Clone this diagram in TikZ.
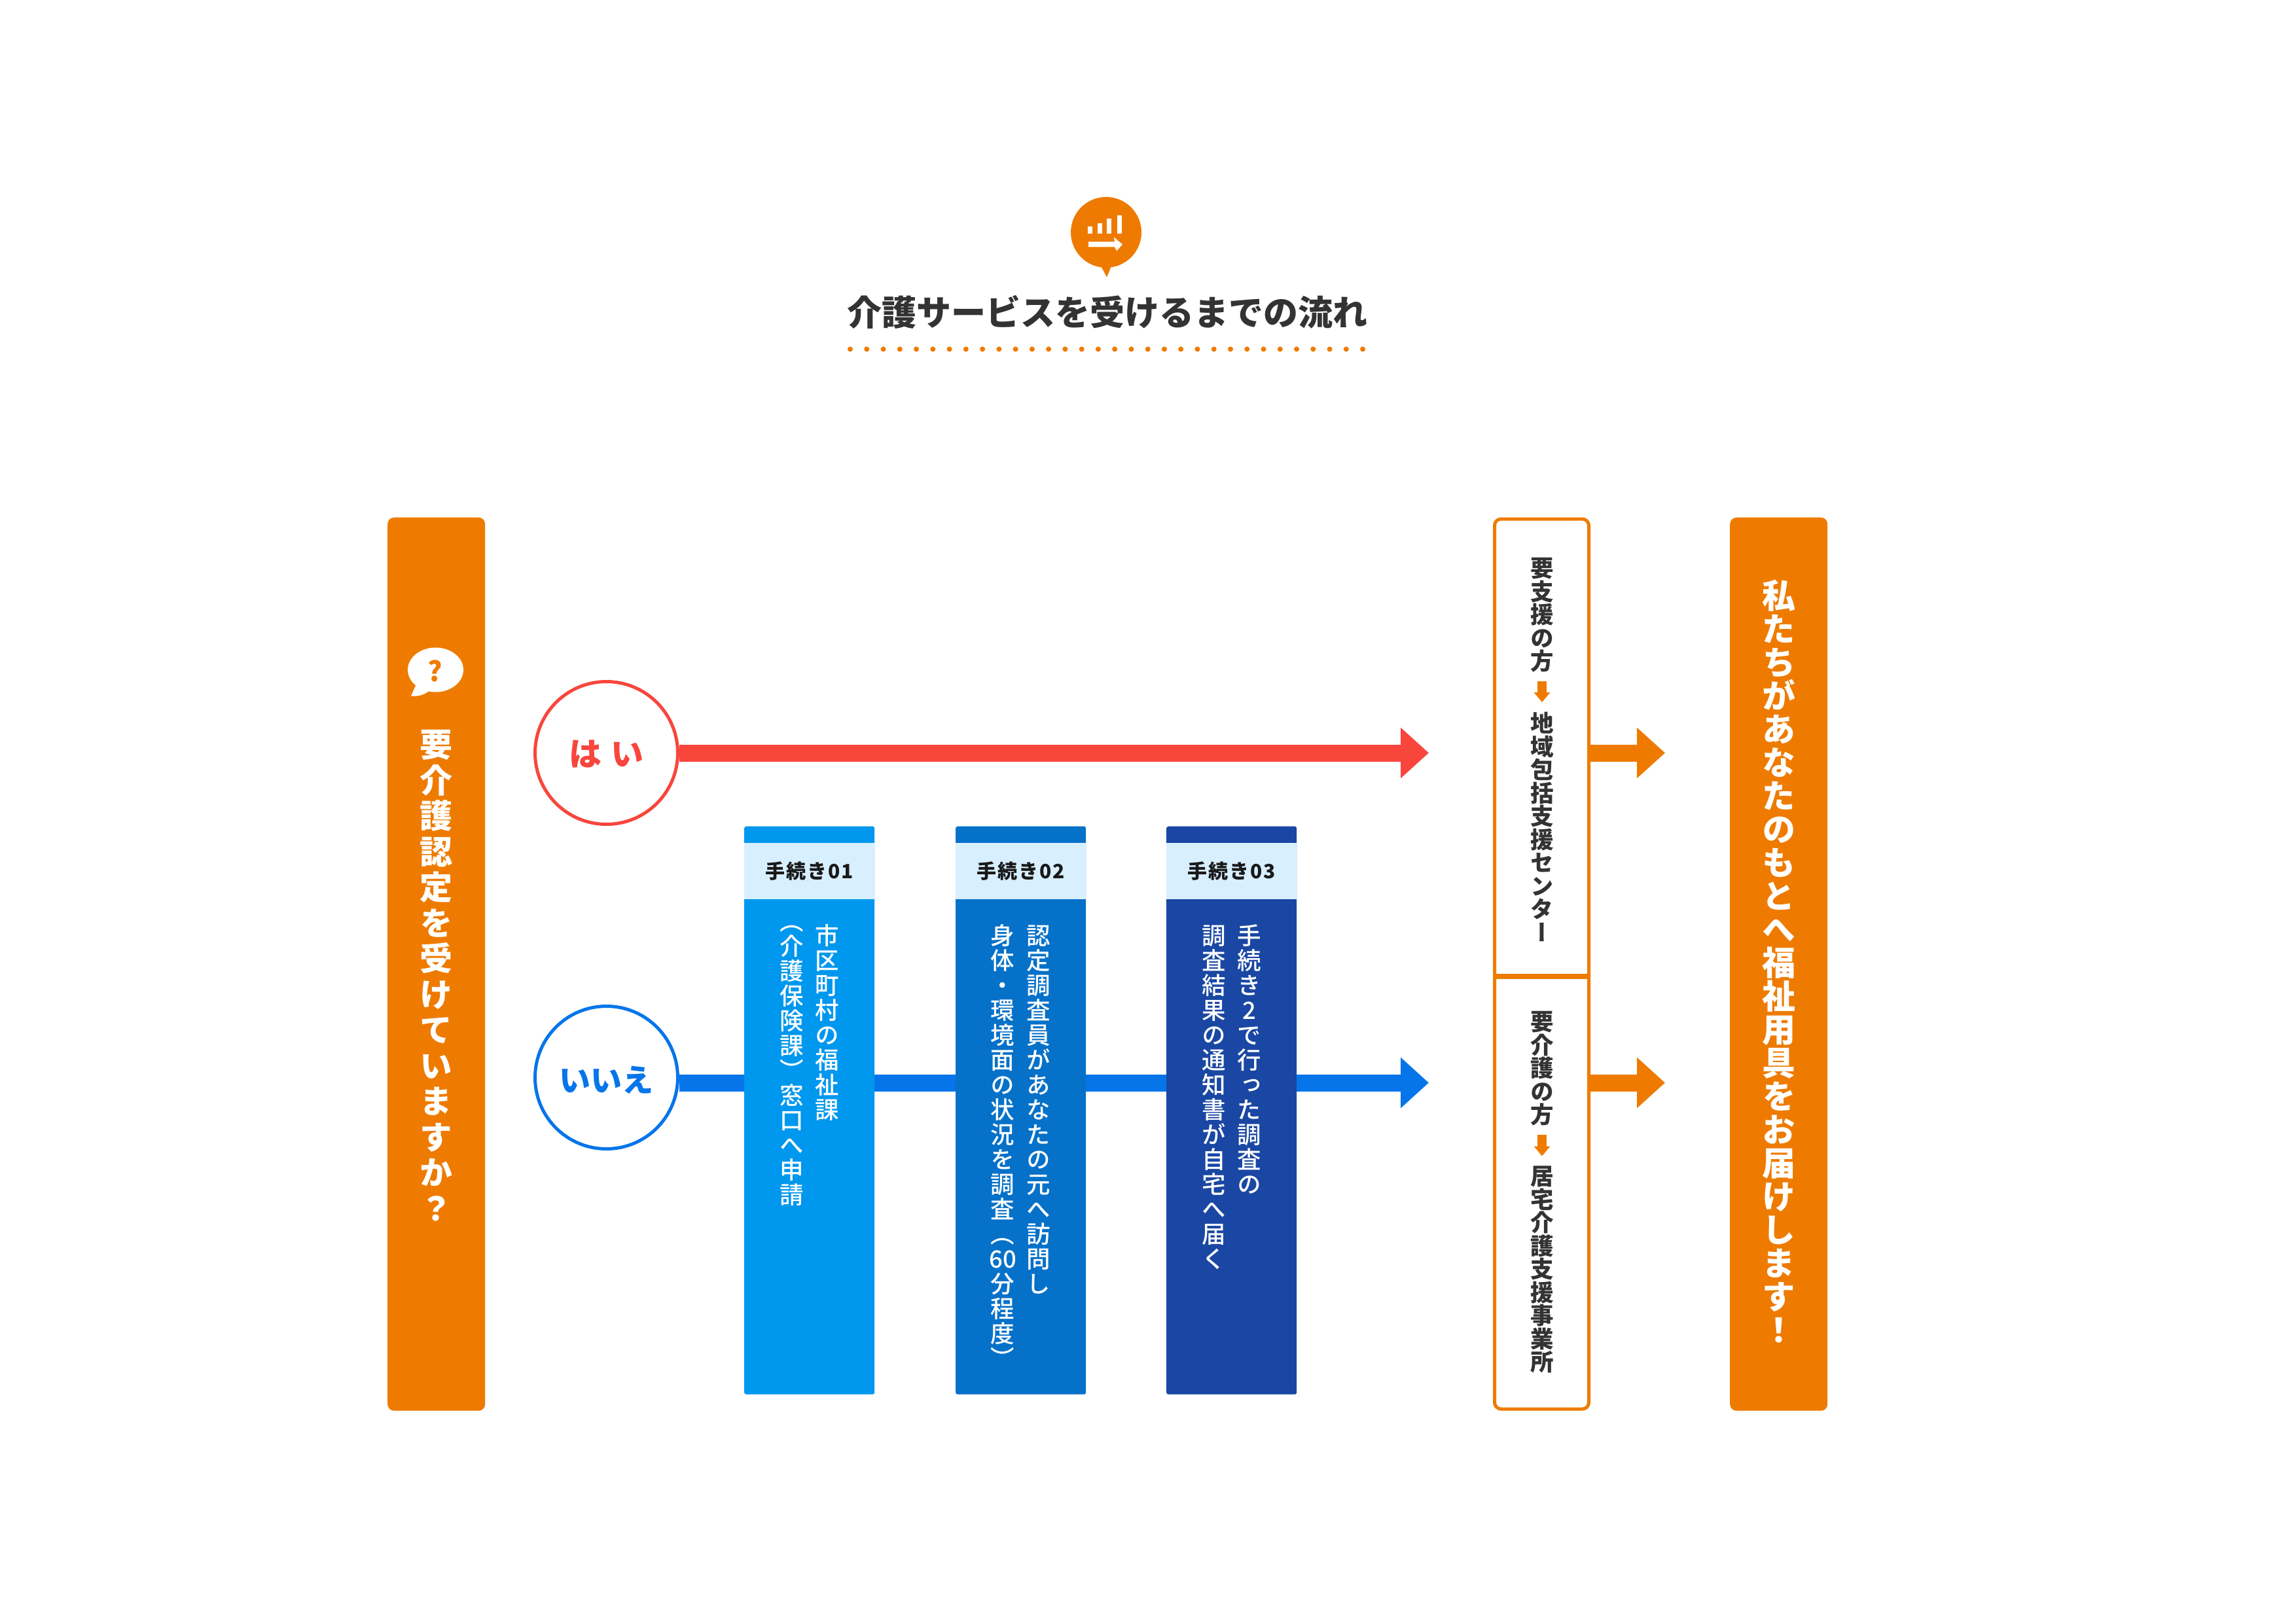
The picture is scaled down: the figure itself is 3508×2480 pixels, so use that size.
\documentclass[tikz,border=0pt]{standalone}
\usepackage{fontspec}
\usepackage{xcolor}
\usetikzlibrary{arrows.meta}
\setmainfont{Noto Sans CJK JP}
\newfontfamily\blackfont{Noto Sans CJK JP Black}
\newfontfamily\vblackfont[RawFeature=+vert]{Noto Sans CJK JP Black}
\newfontfamily\vmidfont[RawFeature=+vert]{Noto Sans CJK JP Medium}
\makeatletter
% #1 is the gap between characters, #2 the characters (braces keep 60 together)
\newcommand{\tatetext}[2]{\vbox{\offinterlineskip\@tfor\tatechar:=#2\do{%
  \hbox to 1em{\hss\vrule height .88em depth .12em width 0pt\tatechar\hss}\vskip#1}}}
\makeatother
\definecolor{careorange}{HTML}{EE7B00}
\definecolor{yesred}{HTML}{F8463D}
\definecolor{noblue}{HTML}{0675EA}
\definecolor{stepa}{HTML}{0097EE}
\definecolor{stepb}{HTML}{0671C9}
\definecolor{stepc}{HTML}{1A47A3}
\definecolor{stephead}{HTML}{D8EFFF}
\definecolor{darktext}{HTML}{333333}
\tikzset{
  vtext/.style={anchor=north,inner sep=0pt},
  asktxt/.style={vtext,text=white,font=\fontsize{50}{50}\vblackfont},
  resulttxt/.style={vtext,text=white,font=\fontsize{51}{51}\vblackfont},
  sidetext/.style={vtext,text=darktext,font=\fontsize{35.5}{36}\vblackfont},
  steptext/.style={vtext,text=white,font=\fontsize{36.5}{37}\vmidfont},
  bar/.style={anchor=north west,inner sep=0pt,minimum width=149pt,minimum height=1365pt,rounded corners=10pt},
  stepbox/.style={anchor=north west,inner sep=0pt,minimum width=199pt,minimum height=868pt,rounded corners=3pt},
  headbox/.style={anchor=north west,inner sep=0pt,minimum width=199pt,minimum height=86pt,fill=stephead,
    text=black!90,font=\fontsize{30}{30}\bfseries\addfontfeature{LetterSpace=7}},
  answer/.style={circle,draw,line width=5pt,fill=white,inner sep=0pt,minimum size=218pt,font=\fontsize{48}{48}\blackfont},
  flow/.style={line width=26pt,-{Triangle[length=43pt,width=75pt]}},
  smalldown/.style={careorange,line width=13.5pt,-{Triangle[length=15pt,width=24pt]}}
}
\begin{document}
\begin{tikzpicture}[x=1pt,y=-1pt]
  \useasboundingbox (0,-1.5) rectangle (3508,2478.5);
  % title
  \fill[careorange] (1690,353.5) circle (54pt);
  \fill[careorange] (1681.5,404) -- (1691,422) -- (1698.5,404) -- cycle;
  \foreach \x/\y in {1661.5/345,1676.5/340,1691/333,1706.5/328}
    \fill[white] (\x,\y) rectangle (\x+7,356);
  \fill[white] (1663,368) -- (1703,368) -- (1702,361) -- (1715,372) -- (1706,382) -- (1703,376) -- (1663,376) -- cycle;
  \node[text=darktext,font=\fontsize{53}{53}\blackfont] (title) at (1692,475) {介護サービスを受けるまでの流れ};
  \foreach \i in {0,...,31}
    \fill[careorange] ({1299+25.26*\i},532) circle (4pt);
  % question
  \node[bar,fill=careorange] (ask) at (592,789) {};
  \fill[white] (665.5,1022) ellipse (42.5pt and 34pt);
  \fill[white] (636,1044) -- (628,1062) .. controls (640,1063) and (648,1060) .. (656,1054) -- cycle;
  \node[text=careorange,font=\fontsize{42}{42}\bfseries] (mark) at (665,1024) {?};
  \node[asktxt] (asktext) at (666,1111) {\tatetext{4.5pt}{要介護認定を受けていますか？}};
  % answers and long arrows
  \node[answer,draw=yesred,text=yesred,font=\fontsize{50}{50}\blackfont\addfontfeature{LetterSpace=5.8}] (yes) at (926.5,1149) {\raisebox{-2pt}[\height][\depth]{は い}};
  \node[answer,draw=noblue,text=noblue] (no) at (926.5,1645) {\raisebox{-4pt}[\height][\depth]{いいえ}};
  \coordinate (yesend) at (2183,1149);
  \coordinate (noend) at (2183,1653);
  \draw[flow,yesred] (yes.east) -- (yesend);
  \draw[flow,noblue] (no.east |- noend) -- (noend);
  % steps
  \foreach \x/\c/\n in {1137/stepa/01,1460/stepb/02,1782/stepc/03} {
    \node[stepbox,fill=\c] (box\n) at (\x,1261) {};
    \node[headbox] (head\n) at (\x,1286.5) {手続き\n};
  }
  \node[steptext] (a1) at (1263.5,1410) {\tatetext{1.5pt}{市区町村の福祉課}};
  \node[steptext] (a2) at (1210,1388) {\tatetext{1.5pt}{（介護保険課）窓口へ申請}};
  \node[steptext] (b1) at (1587,1410) {\tatetext{1.5pt}{認定調査員があなたの元へ訪問し}};
  \node[steptext] (b2) at (1532,1410) {\tatetext{1.5pt}{身体・環境面の状況を調査（{60}分程度）}};
  \node[steptext] (c1) at (1909,1410) {\tatetext{1.5pt}{手続き2で行った調査の}};
  \node[steptext] (c2) at (1855,1410) {\tatetext{1.5pt}{調査結果の通知書が自宅へ届く}};
  % result boxes
  \node[bar,draw=careorange,line width=5pt,fill=white,minimum width=144pt,minimum height=1360pt] (frame) at (2281,789) {};
  \coordinate (dividerL) at (2283.5,1490);
  \coordinate (dividerR) at (2427.5,1490);
  \draw[careorange,line width=8pt] (dividerL) -- (dividerR);
  \node[sidetext] (s1) at (2356,849) {\tatetext{0pt}{要支援の方}};
  \node[sidetext] (s2) at (2356,1086) {\tatetext{0pt}{地域包括支援センター}};
  \node[sidetext] (s3) at (2356,1542) {\tatetext{0pt}{要介護の方}};
  \node[sidetext] (s4) at (2356,1778) {\tatetext{0pt}{居宅介護支援事業所}};
  \draw[smalldown] (2356,1039) -- (2356,1071.5);
  \draw[smalldown] (2356,1732) -- (2356,1765);
  \coordinate (supportend) at (2544,1149);
  \coordinate (careend) at (2544,1653);
  \draw[flow,careorange] (frame.east |- supportend) -- (supportend);
  \draw[flow,careorange] (frame.east |- careend) -- (careend);
  \node[bar,fill=careorange] (result) at (2643,789) {};
  \node[resulttxt] (resulttext) at (2718,883) {\tatetext{0pt}{私たちがあなたのもとへ福祉用具をお届けします！}};
\end{tikzpicture}
\end{document}
